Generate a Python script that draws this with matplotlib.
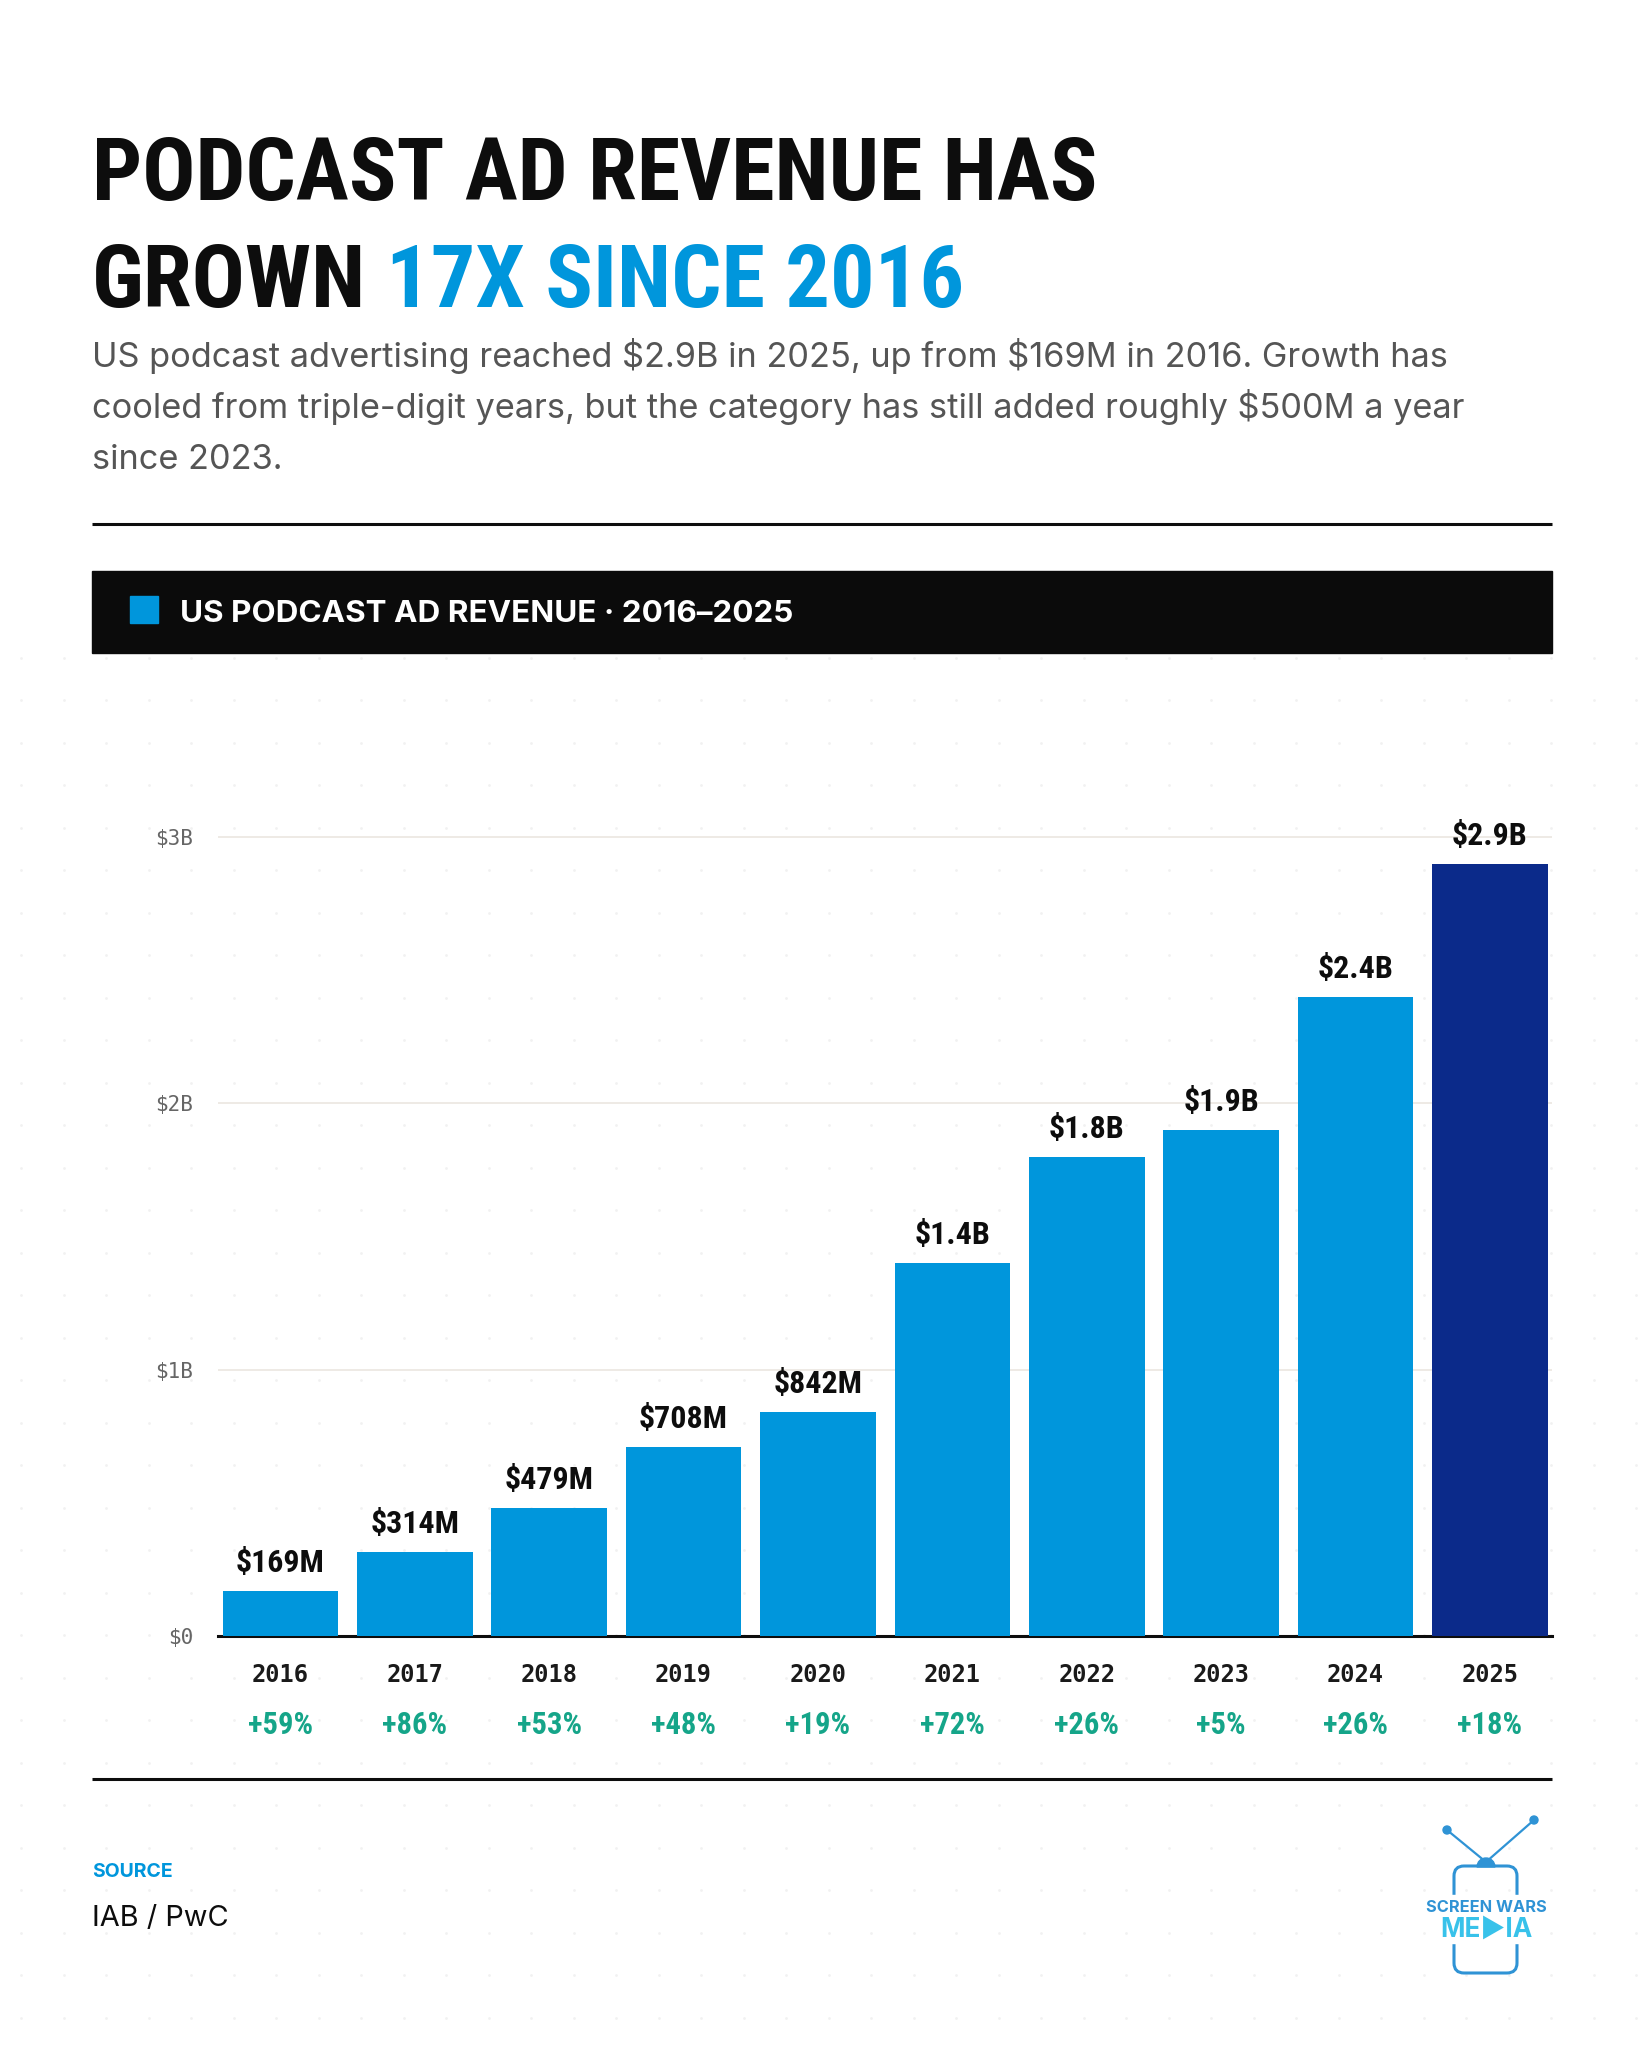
import matplotlib
matplotlib.use('Agg')
import matplotlib.pyplot as plt
from matplotlib import font_manager
from matplotlib.patches import Rectangle, FancyBboxPatch, Circle, Wedge
import numpy as np

# data
years = ['2016', '2017', '2018', '2019', '2020', '2021', '2022', '2023', '2024', '2025']
revenue_b = [0.169, 0.314, 0.479, 0.708, 0.842, 1.4, 1.8, 1.9, 2.4, 2.9]
value_labels = ['$169M', '$314M', '$479M', '$708M', '$842M',
                '$1.4B', '$1.8B', '$1.9B', '$2.4B', '$2.9B']
growth_labels = ['+59%', '+86%', '+53%', '+48%', '+19%',
                 '+72%', '+26%', '+5%', '+26%', '+18%']
y_ticks = [0, 1, 2, 3]
y_tick_labels = ['$0', '$1B', '$2B', '$3B']

subtitle = ['US podcast advertising reached $2.9B in 2025, up from $169M in 2016. Growth has',
            'cooled from triple-digit years, but the category has still added roughly $500M a year',
            'since 2023.']

W, H = 1638, 2048
BLUE = '#0096dc'
NAVY = '#0b2a8a'
TEAL = '#15a589'
INK = '#0d0d0d'
LOGO = '#2f93d5'
LOGO2 = '#38c2ea'

installed = {f.name for f in font_manager.fontManager.ttflist}


def pick(*names):
    for n in names:
        if n in installed:
            return n
    return 'DejaVu Sans'


COND = pick('Roboto Condensed', 'Liberation Sans Narrow', 'Open Sans Condensed', 'DejaVu Sans')
SANS = pick('Inter', 'Roboto', 'DejaVu Sans')
MONO = pick('DejaVu Sans Mono', 'Liberation Mono')

fig = plt.figure(figsize=(W / 100, H / 100), dpi=100)
fig.patch.set_facecolor('white')

# full-figure layer in pixel coordinates (y down) for the page furniture
bg = fig.add_axes([0, 0, 1, 1], zorder=0)
bg.set_xlim(0, W)
bg.set_ylim(H, 0)
bg.axis('off')
renderer = fig.canvas.get_renderer()


def fit_width(t, target):
    w = t.get_window_extent(renderer).width
    t.set_fontsize(t.get_fontsize() * target / w)
    return t


# dotted backdrop behind the chart section
gx = np.arange(21, W, 42.5)
gy = np.arange(657.7, H, 42.5)
xx, yy = np.meshgrid(gx, gy)
bg.scatter(xx.ravel(), yy.ravel(), s=4, color='#f1f1f1', lw=0, zorder=0)

# headline
t1 = bg.text(92, 200, 'PODCAST AD REVENUE HAS', fontfamily=COND, fontweight='bold',
             fontsize=80, color=INK, ha='left', va='baseline')
fit_width(t1, 1006)
fs = t1.get_fontsize()
t2 = bg.text(92, 307, 'GROWN', fontfamily=COND, fontweight='bold',
             fontsize=fs, color=INK, ha='left', va='baseline')
w2 = t2.get_window_extent(renderer).width
bg.text(92 + w2 + 0.22 * fs * 100 / 72, 307, '17X SINCE 2016', fontfamily=COND,
        fontweight='bold', fontsize=fs, color=BLUE, ha='left', va='baseline')

# subtitle
s1 = bg.text(92, 367, subtitle[0], fontfamily=SANS, fontsize=22, color='#555555',
             ha='left', va='baseline', parse_math=False)
fit_width(s1, 1357)
for i, line in enumerate(subtitle[1:], start=1):
    bg.text(92, 367 + 51 * i, line, fontfamily=SANS, fontsize=s1.get_fontsize(),
            color='#555555', ha='left', va='baseline', parse_math=False)

bg.plot([92, 1552], [524, 524], color=INK, lw=2.2, solid_capstyle='butt')

# black banner
bg.add_patch(Rectangle((92, 571), 1460, 82, color='#0b0b0b', zorder=2))
bg.add_patch(Rectangle((130, 596), 28, 27, color=BLUE, zorder=3))
bt = bg.text(180, 622, 'US PODCAST AD REVENUE · 2016–2025', fontfamily=SANS,
             fontweight='bold', fontsize=22, color='white', ha='left', va='baseline', zorder=3)
fit_width(bt, 612)

# chart
ax = fig.add_axes([218 / W, 1 - 1636 / H, (1552 - 218) / W, (1636 - 757) / H], zorder=2)
ax.patch.set_alpha(0)
x = np.arange(len(years))
colors = [BLUE] * (len(years) - 1) + [NAVY]
ax.bar(x, revenue_b, width=0.86, color=colors, zorder=3)
ax.set_xlim(-0.464, 9.462)
ax.set_ylim(0, 3.3)
ax.set_yticks(y_ticks, y_tick_labels)
ax.set_xticks([])
ax.tick_params(axis='y', length=0, pad=18, labelsize=15, labelcolor='#666666')
for lab in ax.get_yticklabels():
    lab.set_fontfamily(MONO)
ax.grid(axis='y', color='#e9e4de', lw=1.1, zorder=0)
for s in ['top', 'right', 'left']:
    ax.spines[s].set_visible(False)
ax.spines['bottom'].set_linewidth(2.2)
ax.spines['bottom'].set_color(INK)
ax.spines['bottom'].set_zorder(2)

for i, v in enumerate(revenue_b):
    ax.annotate(value_labels[i], (i, v), xytext=(0, 13.7), textcoords='offset points',
                ha='center', va='baseline', fontfamily=COND, fontweight='bold',
                fontsize=23, color=INK, annotation_clip=False, parse_math=False)
    ax.annotate(years[i], (i, 0), xytext=(0, -33), textcoords='offset points',
                ha='center', va='baseline', fontfamily=MONO, fontweight='bold',
                fontsize=17, color='#1a1a1a', annotation_clip=False)
    ax.annotate(growth_labels[i], (i, 0), xytext=(0, -70.6), textcoords='offset points',
                ha='center', va='baseline', fontfamily=COND, fontweight='bold',
                fontsize=22, color=TEAL, annotation_clip=False)

bg.plot([92, 1552], [1779, 1779], color=INK, lw=2.2, solid_capstyle='butt')

# source
bg.text(92, 1877, 'SOURCE', fontfamily=SANS, fontweight='bold', fontsize=14,
        color=BLUE, ha='left', va='baseline')
src = bg.text(92, 1926, 'IAB / PwC', fontfamily=SANS, fontsize=22, color=INK,
              ha='left', va='baseline')
fit_width(src, 137)

# logo
bg.plot([1486, 1447], [1862, 1830], color=LOGO, lw=1.6, zorder=2)
bg.plot([1486, 1534], [1862, 1820], color=LOGO, lw=1.6, zorder=2)
bg.add_patch(Circle((1447, 1830), 4, color=LOGO, zorder=2))
bg.add_patch(Circle((1534, 1820), 4, color=LOGO, zorder=2))
bg.add_patch(Wedge((1486, 1867), 9, 180, 360, color=LOGO, zorder=2))
bg.add_patch(FancyBboxPatch((1464, 1876), 43, 87, boxstyle='round,pad=10',
                            fill=False, ec=LOGO, lw=2.2, zorder=2))
bg.add_patch(Rectangle((1446, 1895), 14, 48, color='white', zorder=3))
bg.add_patch(Rectangle((1511, 1895), 14, 48, color='white', zorder=3))
lt = bg.text(1486, 1908, 'SCREEN WARS', fontfamily=SANS, fontweight='bold', fontsize=10,
             color=LOGO, ha='center', va='center', zorder=4)
fit_width(lt, 120)
lm = bg.text(1486, 1930, 'ME▶IA', fontfamily=[SANS, 'DejaVu Sans'], fontweight='bold',
             fontsize=14, color=LOGO2, ha='center', va='center', zorder=4)
fit_width(lm, 92)

fig.savefig('out.png', dpi=100, facecolor='white')
